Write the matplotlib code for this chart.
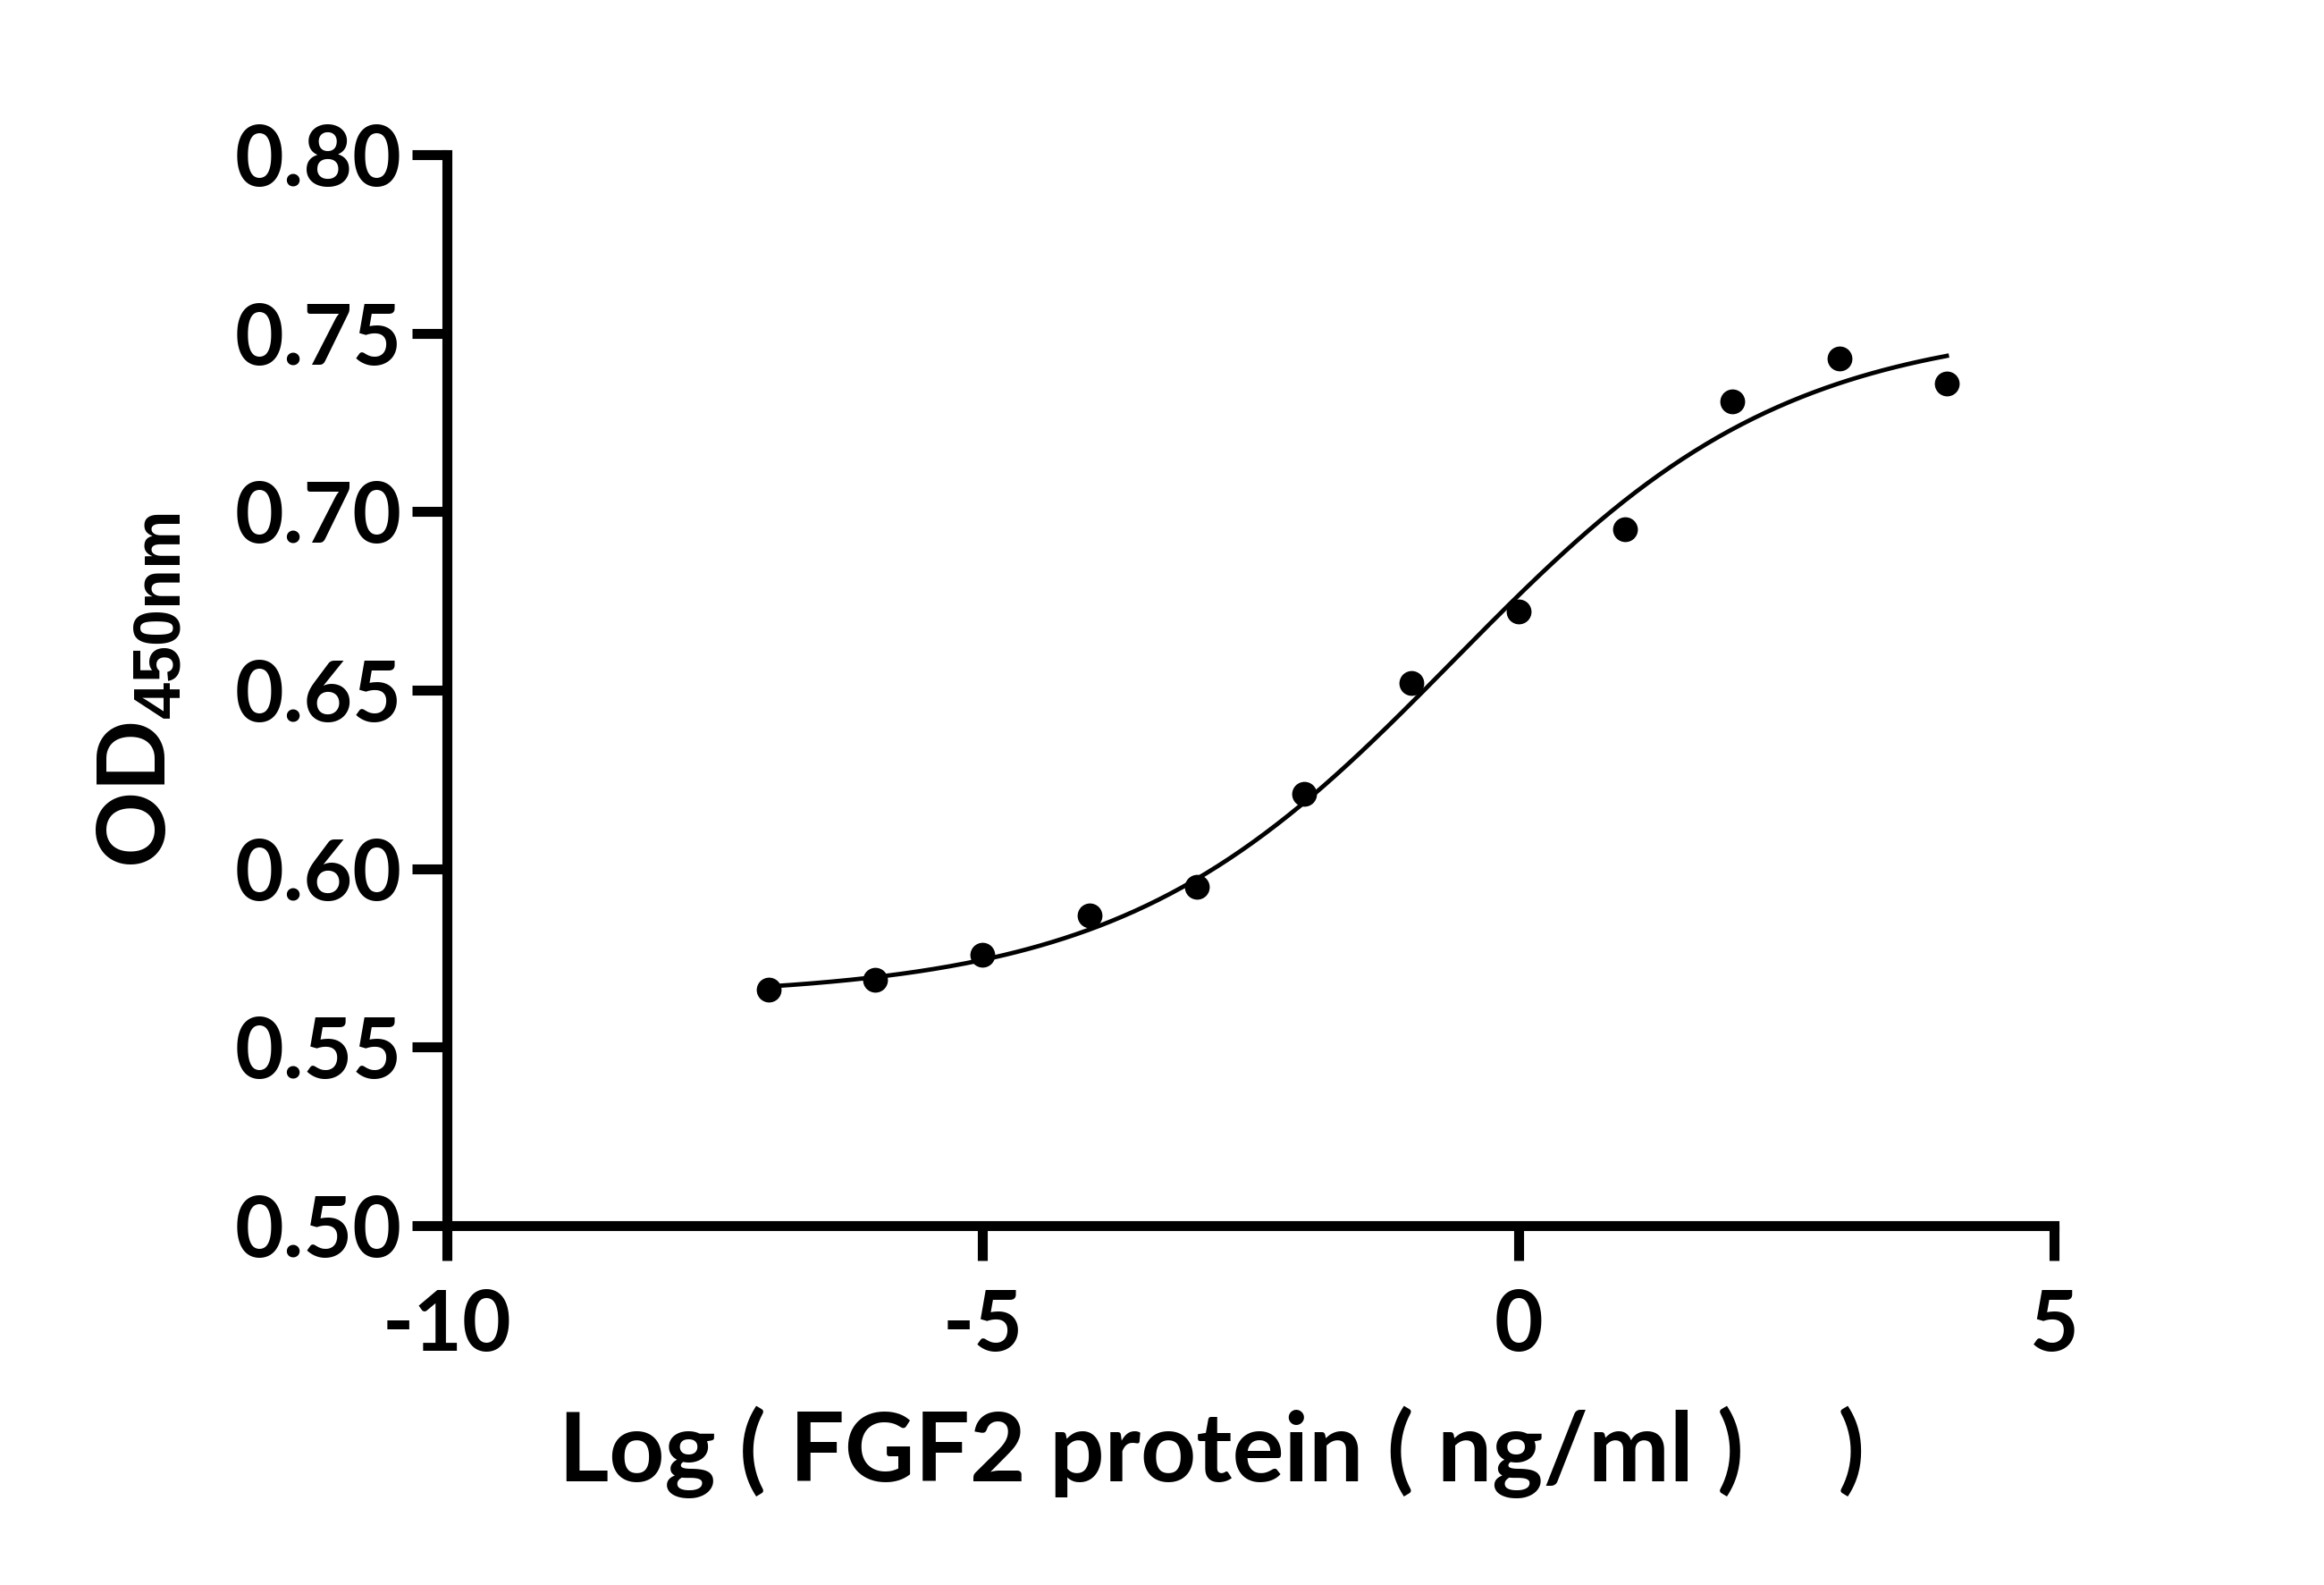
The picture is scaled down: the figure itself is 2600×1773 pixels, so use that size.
import numpy as np
from matplotlib import pyplot as plt
from matplotlib.ticker import FormatStrFormatter

# log10 of FGF2 concentration (ng/ml) and measured OD450
log_conc = [-7, -6, -5, -4, -3, -2, -1, 0, 1, 2, 3, 4]
od450 = [0.566, 0.569, 0.576, 0.587, 0.595, 0.621, 0.652, 0.672, 0.695, 0.731, 0.743, 0.736]

# four-parameter logistic fit
fit_bottom = 0.564
fit_top = 0.7529
fit_logec50 = -0.6
fit_hill = 0.28

x_ticks = [-10, -5, 0, 5]
y_ticks = [0.50, 0.55, 0.60, 0.65, 0.70, 0.75, 0.80]

plt.rcParams['font.family'] = ['Lato', 'DejaVu Sans']
plt.rcParams['font.weight'] = 'bold'
plt.rcParams['axes.unicode_minus'] = False
plt.rcParams['mathtext.fontset'] = 'custom'
plt.rcParams['mathtext.rm'] = 'Liberation Sans'

fig = plt.figure(figsize=(26, 17.73), dpi=100)
ax = fig.add_axes([0.1923, 0.2267, 0.8838 - 0.1923, 0.9024 - 0.2267])

xs = np.linspace(min(log_conc), max(log_conc), 300)
ys = fit_bottom + (fit_top - fit_bottom) / (1 + 10 ** ((fit_logec50 - xs) * fit_hill))
ax.plot(xs, ys, color='black', lw=3.5)
ax.plot(log_conc, od450, 'o', color='black', ms=19)

ax.set_xlim(-10, 5)
ax.set_ylim(0.50, 0.80)
ax.set_xticks(x_ticks)
ax.set_yticks(y_ticks)
ax.yaxis.set_major_formatter(FormatStrFormatter('%.2f'))

for s in ['top', 'right']:
    ax.spines[s].set_visible(False)
for s in ['left', 'bottom']:
    ax.spines[s].set_linewidth(8)
ax.tick_params(width=8, length=28, labelsize=68, pad=8)
ax.tick_params(axis='x', pad=22)

ax.set_xlabel('Log ( FGF2 protein ( ng/ml )    )', fontsize=78, fontweight='bold')
ax.xaxis.set_label_coords(0.476, -0.168)
ax.set_ylabel(r'OD$_{\mathrm{450nm}}$', fontsize=76, fontweight='bold', labelpad=42)

fig.savefig('out.png', dpi=100)
